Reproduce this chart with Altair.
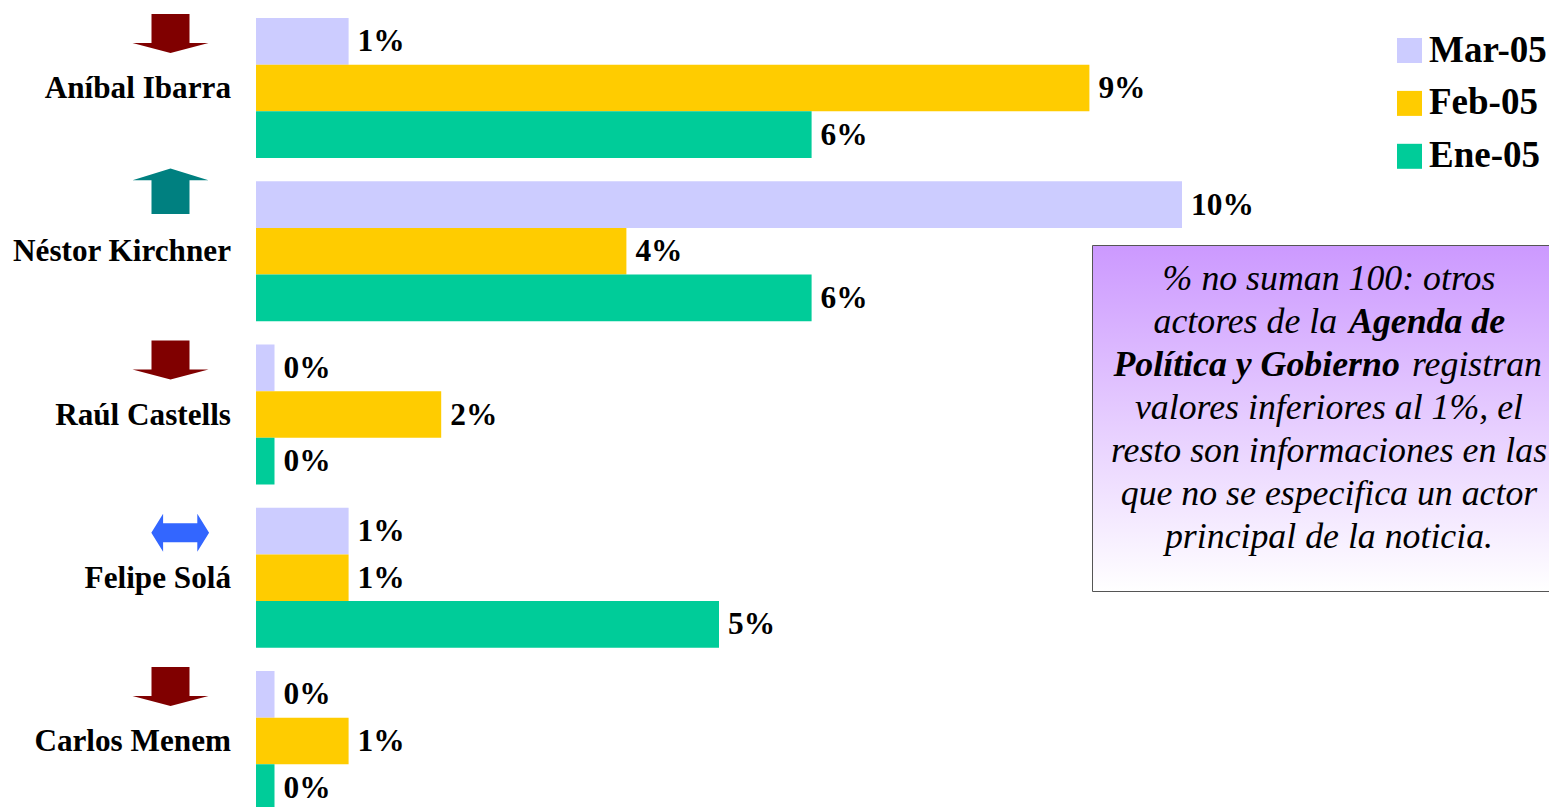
import altair as alt
import pandas as pd

actors = ["Aníbal Ibarra", "Néstor Kirchner", "Raúl Castells", "Felipe Solá", "Carlos Menem"]
months = ["Mar-05", "Feb-05", "Ene-05"]
mar = [1, 10, 0.2, 1, 0.2]
feb = [9, 4, 2, 1, 1]
ene = [6, 6, 0.2, 5, 0.2]
mar_labels = ["1%", "10%", "0%", "1%", "0%"]
feb_labels = ["9%", "4%", "2%", "1%", "1%"]
ene_labels = ["6%", "6%", "0%", "5%", "0%"]
month_colors = ["#CCCCFF", "#FFCC00", "#00CC99"]

rows = []
for i, a in enumerate(actors):
    for m, vals, labs in zip(months, [mar, feb, ene], [mar_labels, feb_labels, ene_labels]):
        rows.append({"actor": a, "month": m, "value": vals[i], "label": labs[i]})
df = pd.DataFrame(rows)
names = pd.DataFrame({"actor": actors})

FONT = "Liberation Serif"
W, H = 1541, 799
PX = 92.6
x_scale = alt.Scale(domain=[-248 / PX, (W - 248) / PX], nice=False, zero=False)
y_scale = alt.Scale(domain=actors, range=[10, 803], paddingInner=23.25 / 163.25, paddingOuter=0)
X = alt.X("value:Q", scale=x_scale, axis=None)
Y = alt.Y("actor:N", scale=y_scale, axis=None, sort=actors)
YO = alt.YOffset("month:N", sort=months, scale=alt.Scale(domain=months, paddingInner=0, paddingOuter=0))

bars = alt.Chart(df).mark_bar(cornerRadius=0, strokeWidth=0).encode(
    x=X, x2=alt.datum(0), y=Y, yOffset=YO,
    color=alt.Color(
        "month:N",
        sort=months,
        scale=alt.Scale(domain=months, range=month_colors),
        legend=alt.Legend(
            title=None, orient="none", legendX=1383, legendY=24,
            symbolType="square", symbolSize=625, symbolStrokeWidth=0, symbolOpacity=1,
            labelFont=FONT, labelFontWeight="bold", labelFontSize=37, labelColor="#000000",
            labelOffset=1, rowPadding=14.9, labelLimit=300,
        ),
    ),
)

values = alt.Chart(df).mark_text(
    font=FONT, fontWeight="bold", fontSize=31.4, color="#000000", align="left", baseline="middle", dx=9, dy=1
).encode(x=X, y=Y, yOffset=YO, text="label:N")

names_layer = alt.Chart(names).mark_text(
    font=FONT, fontWeight="bold", fontSize=31.2, color="#000000", align="right", baseline="middle", dy=1
).encode(x=alt.datum(-25 / PX, scale=x_scale), y=Y, text="actor:N")

ARROW_SIZE = 5776
DOWN = "M-0.5,-0.51L0.5,-0.51L0.5,0.25L1,0.25L0,0.51L-1,0.25L-0.5,0.25Z"
UP = "M0,-0.6L1,-0.29L0.5,-0.29L0.5,0.6L-0.5,0.6L-0.5,-0.29L-1,-0.29Z"
BOTH = "M-0.76,0L-0.45,-0.5L-0.45,-0.25L0.45,-0.25L0.45,-0.5L0.76,0L0.45,0.5L0.45,0.25L-0.45,0.25L-0.45,0.5Z"


def arrow(who, path, colour, centre_px, off):
    return alt.Chart(pd.DataFrame({"actor": who})).mark_point(
        shape=path, filled=True, size=ARROW_SIZE, color=colour, opacity=1, strokeWidth=0, yOffset=off
    ).encode(x=alt.datum((centre_px - 256) / PX, scale=x_scale), y=Y)


arrows = [
    arrow(["Aníbal Ibarra", "Raúl Castells", "Carlos Menem"], DOWN, "#800000", 170.5, -54.5),
    arrow(["Néstor Kirchner"], UP, "#008080", 170.5, -60),
    arrow(["Felipe Solá"], BOTH, "#3366FF", 180.2, -45),
]

box = alt.Chart(pd.DataFrame({"k": [0]})).mark_rect(
    color=alt.Gradient(
        gradient="linear", x1=0, x2=0, y1=0, y2=1,
        stops=[alt.GradientStop(offset=0, color="#CC99FF"), alt.GradientStop(offset=1, color="#FFFFFF")],
    ),
    stroke="#555555", strokeWidth=1,
).encode(x=alt.value(1084.5), x2=alt.value(1570), y=alt.value(237.5), y2=alt.value(583.5))


def note(text, x, baseline_y, align="center", weight="normal"):
    return alt.Chart(pd.DataFrame({"k": [0]})).mark_text(
        text=text, font=FONT, fontStyle="italic", fontWeight=weight, fontSize=35.8,
        color="#000000", align=align, baseline="alphabetic",
    ).encode(x=alt.value(x - 8), y=alt.value(baseline_y - 8))


notes = [
    note("% no suman 100: otros", 1329, 290),
    note("actores de la", 1153.5, 333, "left"),
    note("Agenda de", 1349, 333, "left", "bold"),
    note("Política y Gobierno", 1113.5, 376, "left", "bold"),
    note("registran", 1412, 376, "left"),
    note("valores inferiores al 1%, el", 1329, 419),
    note("resto son informaciones en las", 1329, 462),
    note("que no se especifica un actor", 1329, 505),
    note("principal de la noticia.", 1329, 548),
]

chart = alt.layer(bars, values, names_layer, *arrows, box, *notes).properties(
    width=W, height=H, padding=0, background="#FFFFFF",
    autosize=alt.AutoSizeParams(type="none"),
).configure_view(strokeWidth=0)

chart.save("out.html", embed_options={"renderer": "svg", "actions": False})
